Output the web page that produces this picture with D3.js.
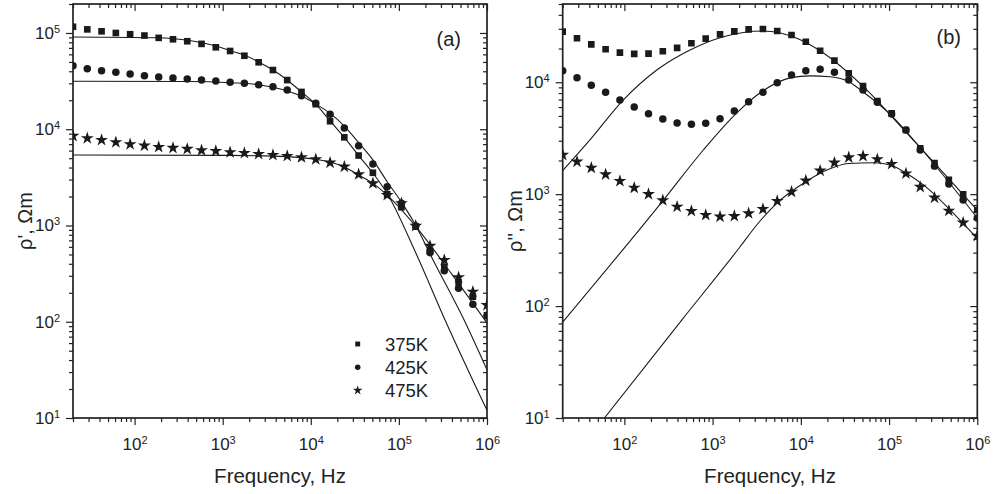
<!DOCTYPE html>
<html>
<head>
<meta charset="utf-8">
<script src="https://cdn.jsdelivr.net/npm/d3@7"></script>
<style>
  body { margin:0; background:#fff; }
  svg { display:block; font-family:"Liberation Sans", Arial, sans-serif; }
  .tick line { stroke:#222; stroke-width:1.2; }
  .domain { display:none; }
</style>
</head>
<body>
<svg id="chart" width="993" height="494"></svg>
<script>
// --- Data ---
const freq = [20, 29.05, 42.19, 61.28, 89.0, 129.3, 187.8, 272.7, 396.1, 575.3, 835.6, 1214, 1763, 2560, 3718,
  5400, 7843, 11390, 16550, 24030, 34900, 50690, 73620, 106900, 155300, 225600, 327600, 475800, 691100, 1000000];

// rho' (panel a)
const re375 = [116000, 109000, 104000, 100000, 97000, 94000, 89000, 86000, 82000, 77000, 71000, 65000, 58000, 49600, 41200,
  32400, 24400, 18200, 12100, 8240, 5330, 3530, 2110, 1545, 972, 544, 373, 257, 182, 117];
const re425 = [45700, 42600, 40600, 39000, 37500, 36000, 34900, 34100, 33300, 32500, 31700, 30800, 30000, 29000, 27700,
  25600, 22300, 18600, 14300, 10300, 6740, 4350, 2530, 1700, 989, 521, 339, 223, 152, 115];
const re475 = [8510, 8060, 7730, 7320, 6980, 6750, 6540, 6390, 6240, 6040, 5940, 5760, 5660, 5530, 5400,
  5270, 5110, 4870, 4490, 4080, 3400, 2740, 2070, 1700, 990, 613, 438, 290, 205, 149];

// rho'' (panel b)
const im375 = [28300, 24700, 21800, 19700, 18400, 17900, 18000, 18900, 20300, 22300, 24500, 26800, 28500, 29700, 29900,
  28700, 26400, 23000, 19100, 15600, 12000, 9250, 6790, 5270, 3740, 2570, 1900, 1340, 995, 721];
const im425 = [12680, 10970, 9380, 8120, 6930, 6000, 5230, 4690, 4320, 4210, 4300, 4720, 5530, 6700, 8130,
  9910, 11600, 12680, 13040, 12260, 10470, 8520, 6620, 5200, 3740, 2480, 1780, 1230, 885, 612];
const im475 = [2240, 1950, 1720, 1500, 1310, 1140, 1000, 880, 772, 707, 651, 629, 637, 674, 736,
  868, 1050, 1320, 1620, 1910, 2130, 2190, 2050, 1860, 1530, 1160, 930, 711, 556, 423];

// fitted curves, [frequency, value]
const fitRe375 = [[20,90800],[188,89300],[396,83900],[836,73200],[1214,65500],[1763,59000],[2560,50000],[3718,41200],
  [5400,32500],[7843,24400],[11390,18200],[16550,12200],[24030,8240],[34900,5330],[50690,3500],[73620,2150],
  [155300,520],[341000,100],[1000000,12]];
const fitRe425 = [[20,31500],[400,31300],[1214,30400],[2560,29000],[3718,27300],[5400,25000],[7843,22100],[11390,18300],
  [16550,14600],[24030,10800],[34900,7250],[50690,4800],[73620,2850],[106900,1750],[146600,1100],[250000,420],
  [550000,104],[1000000,31.6]];
const fitRe475 = [[20,5400],[1214,5350],[3718,5250],[11390,4870],[24030,4050],[34900,3350],[50690,2740],[73620,2070],
  [155300,980],[400000,310],[1000000,97]];

const fitIm375 = [[20,1620],[40.7,3050],[97,6930],[233,12850],[555,19400],[1324,25500],[3760,28700],[9000,24700],
  [16500,19100],[51200,9120],[148000,3740],[1000000,721]];
const fitIm425 = [[20,72],[277,885],[785,2480],[1870,5300],[3660,8300],[7760,11000],[12700,11400],[21500,11200],
  [35200,10100],[50400,8230],[100400,5270],[237700,2480],[1000000,612]];
const fitIm475 = [[59.4,10],[447,75],[2050,339],[3160,530],[5330,828],[11380,1290],[19700,1640],[34600,1880],
  [66500,1910],[102800,1820],[158900,1530],[244900,1210],[586000,628],[1000000,403]];

const legendLabels = ["375K", "425K", "475K"];
const symbols = [d3.symbolSquare, d3.symbolCircle, d3.symbolStar];

// --- Layout ---
const svg = d3.select("#chart");
const FONT = "Liberation Sans, Arial, sans-serif";

function supLabel(sel, d){
  const t = sel.text(null);
  t.append("tspan").text("10");
  t.append("tspan").attr("dy", "-0.55em").attr("font-size", "11px").text(Math.round(Math.log10(d)));
}

function drawPanel(p){
  const x = d3.scaleLog().domain([20, 1e6]).range([p.x0, p.x1]);
  const y = d3.scaleLog().domain(p.yDomain).range([418, 4]);
  const g = svg.append("g");

  const clipId = "clip" + p.id;
  svg.append("clipPath").attr("id", clipId).append("rect")
    .attr("x", p.x0).attr("y", 4).attr("width", p.x1 - p.x0).attr("height", 414);

  const xMajor = x.ticks().filter(v => Math.abs(Math.log10(v) % 1) < 1e-9);
  const xMinor = x.ticks().filter(v => Math.abs(Math.log10(v) % 1) > 1e-9);
  const yMajor = y.ticks().filter(v => Math.abs(Math.log10(v) % 1) < 1e-9);
  const yMinor = y.ticks().filter(v => Math.abs(Math.log10(v) % 1) > 1e-9);

  // bottom (out) + top (in): both point down
  g.append("g").attr("transform", `translate(0,418)`)
    .call(d3.axisBottom(x).tickValues(xMinor).tickSize(4).tickFormat(""));
  const gb = g.append("g").attr("transform", `translate(0,418)`)
    .call(d3.axisBottom(x).tickValues(xMajor).tickSize(7).tickPadding(13));
  gb.selectAll(".tick text").attr("font-size", "17px").attr("font-family", FONT).attr("fill", "#222")
    .each(function(d){ supLabel(d3.select(this), d); });
  g.append("g").attr("transform", `translate(0,4)`)
    .call(d3.axisBottom(x).tickValues(xMinor).tickSize(4).tickFormat(""));
  g.append("g").attr("transform", `translate(0,4)`)
    .call(d3.axisBottom(x).tickValues(xMajor).tickSize(7).tickFormat(""));

  // left (out) + right (in): both point left
  g.append("g").attr("transform", `translate(${p.x0},0)`)
    .call(d3.axisLeft(y).tickValues(yMinor).tickSize(4).tickFormat(""));
  const gl = g.append("g").attr("transform", `translate(${p.x0},0)`)
    .call(d3.axisLeft(y).tickValues(yMajor).tickSize(7).tickPadding(6));
  gl.selectAll(".tick text").attr("font-size", "17px").attr("font-family", FONT).attr("fill", "#222")
    .each(function(d){ supLabel(d3.select(this), d); });
  g.append("g").attr("transform", `translate(${p.x1},0)`)
    .call(d3.axisLeft(y).tickValues(yMinor).tickSize(4).tickFormat(""));
  g.append("g").attr("transform", `translate(${p.x1},0)`)
    .call(d3.axisLeft(y).tickValues(yMajor).tickSize(7).tickFormat(""));

  // frame
  g.append("rect").attr("x", p.x0).attr("y", 4).attr("width", p.x1 - p.x0).attr("height", 414)
    .attr("fill", "none").attr("stroke", "#222").attr("stroke-width", 1.7);

  const plot = g.append("g").attr("clip-path", `url(#${clipId})`);

  const line = d3.line().x(d => x(d[0])).y(d => y(d[1])).curve(d3.curveMonotoneX);
  p.fits.forEach(f => {
    plot.append("path").datum(f).attr("d", line)
      .attr("fill", "none").attr("stroke", "#1a1a1a").attr("stroke-width", 1.1);
  });

  const sizes = [44, 44, 52];
  p.series.forEach((s, k) => {
    const sym = d3.symbol().type(symbols[k]).size(sizes[k]);
    plot.append("g").selectAll("path").data(s).join("path")
      .attr("transform", (d, i) => `translate(${x(freq[i])},${y(d)})`)
      .attr("d", sym).attr("fill", "#1a1a1a");
  });

  // axis titles
  g.append("text").attr("x", (p.x0 + p.x1) / 2).attr("y", 483).attr("text-anchor", "middle")
    .attr("font-size", "20.5px").attr("fill", "#222").text("Frequency, Hz");
  g.append("text").attr("transform", `translate(${p.ytX},221) rotate(-90)`).attr("text-anchor", "middle")
    .attr("font-size", "20px").attr("fill", "#222").text(p.yTitle);

  // panel tag
  g.append("text").attr("x", p.tagX).attr("y", p.tagY).attr("text-anchor", "end")
    .attr("font-size", "20px").attr("fill", "#222").text(p.tag);

  return {x, y, g};
}

drawPanel({
  id: "a", x0: 73, x1: 487, yDomain: [10, 2e5],
  series: [re375, re425, re475], fits: [fitRe375, fitRe425, fitRe475],
  yTitle: "ρ', Ωm", ytX: 32, tag: "(a)", tagX: 461, tagY: 46
});
drawPanel({
  id: "b", x0: 562.7, x1: 977.3, yDomain: [10, 5e4],
  series: [im375, im425, im475], fits: [fitIm375, fitIm425, fitIm475],
  yTitle: "ρ'', Ωm", ytX: 522, tag: "(b)", tagX: 961, tagY: 44
});

// legend in panel (a)
const lg = svg.append("g");
legendLabels.forEach((lab, k) => {
  const cy = 344 + k * 23.2;
  lg.append("path").attr("transform", `translate(357.7,${cy})`)
    .attr("d", d3.symbol().type(symbols[k]).size(k === 2 ? 28 : 24)).attr("fill", "#1a1a1a");
  lg.append("text").attr("x", 385).attr("y", cy + 6.5).attr("font-size", "18.5px").attr("fill", "#222").text(lab);
});
</script>
</body>
</html>
